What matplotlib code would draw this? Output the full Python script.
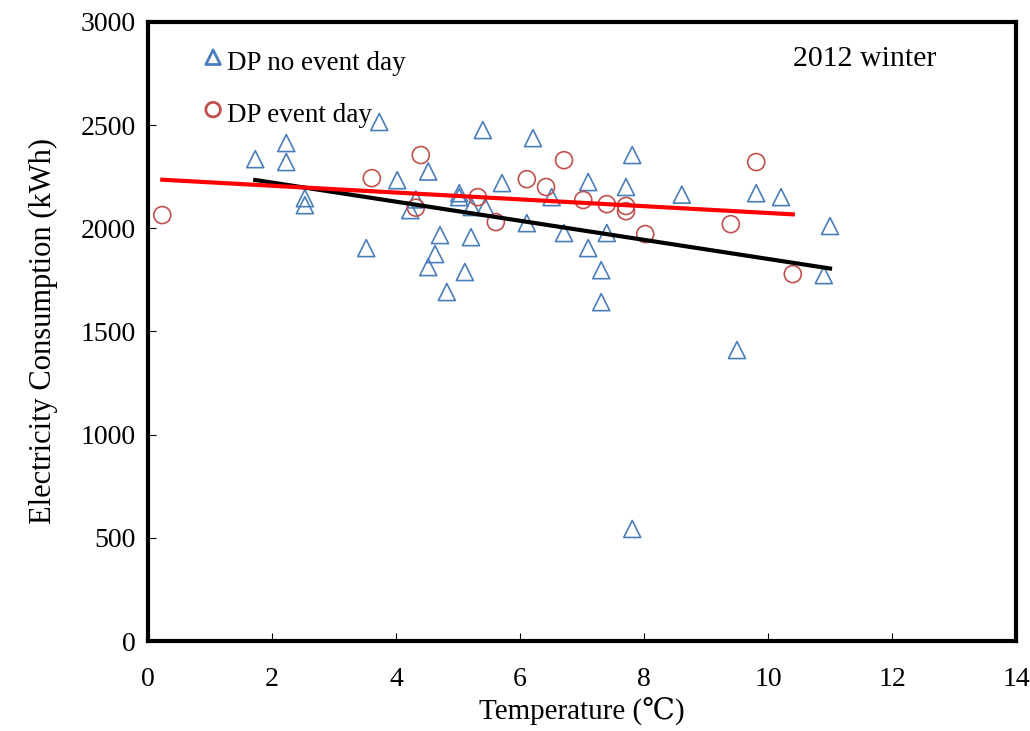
import numpy as np
import matplotlib.pyplot as plt

# DP no event day (triangles)
no_event_temp = [1.73, 2.23, 2.23, 2.53, 2.53, 3.52, 3.73, 4.02, 4.23, 4.32,
                 4.52, 4.52, 4.63, 4.71, 4.82, 5.02, 5.02, 5.11, 5.21, 5.22,
                 5.40, 5.44, 5.71, 6.11, 6.21, 6.51, 6.71, 7.10, 7.10, 7.31,
                 7.31, 7.40, 7.71, 7.81, 7.81, 8.61, 9.50, 9.81, 10.21, 10.90,
                 11.00]
no_event_kwh = [2335, 2413, 2321, 2146, 2112, 1904, 2515, 2233, 2088, 2140,
                2275, 1812, 1875, 1967, 1691, 2170, 2151, 1788, 1957, 2103,
                2476, 2103, 2219, 2025, 2437, 2151, 1977, 2224, 1904, 1797,
                1642, 1977, 2200, 2355, 543, 2163, 1410, 2170, 2151, 1773,
                2011]

# DP event day (circles)
event_temp = [0.23, 3.61, 4.32, 4.40, 5.32, 5.61, 6.11, 6.42, 6.71, 7.02,
              7.40, 7.71, 7.71, 8.02, 9.40, 9.81, 10.40]
event_kwh = [2064, 2243, 2100, 2355, 2151, 2030, 2238, 2200, 2330, 2137,
             2117, 2108, 2083, 1972, 2020, 2321, 1778]

plt.rcParams['font.family'] = ['Liberation Serif', 'DejaVu Serif']

fig = plt.figure(figsize=(10.3, 7.31), dpi=100)
ax = fig.add_axes([0.1437, 0.1231, 0.8427, 0.8469])

blue = '#4A7EBB'
red = '#C0504D'

ax.scatter(no_event_temp, no_event_kwh, marker='^', s=150, facecolors='none',
           edgecolors=blue, linewidths=1.2, zorder=3)
ax.scatter(event_temp, event_kwh, marker='o', s=150, facecolors='none',
           edgecolors=red, linewidths=1.2, zorder=3)

# linear trend lines
p_no = np.polyfit(no_event_temp, no_event_kwh, 1)
xs = np.array([min(no_event_temp), max(no_event_temp)])
ax.plot(xs, np.polyval(p_no, xs), color='black', lw=3, zorder=4)

p_ev = np.polyfit(event_temp, event_kwh, 1)
xs = np.array([min(event_temp), max(event_temp)])
ax.plot(xs, np.polyval(p_ev, xs), color='red', lw=3, zorder=4)

ax.set_xlim(0, 14)
ax.set_ylim(0, 3000)
ax.set_xticks(range(0, 15, 2))
ax.set_yticks(range(0, 3001, 500))
ax.tick_params(labelsize=20, direction='in', length=6, width=0.8,
               top=False, right=False)
ax.tick_params(axis='x', pad=19)
ax.tick_params(axis='y', pad=9)
for sp in ax.spines.values():
    sp.set_linewidth(3)

ax.set_xlabel('Temperature (\u2103)', fontsize=21, labelpad=4)
ax.set_ylabel('Electricity Consumption (kWh)', fontsize=22, labelpad=16)

# legend-like markers and text
ax.scatter([1.05], [2829], marker='^', s=110, facecolors='none',
           edgecolors=blue, linewidths=2, zorder=3)
ax.text(1.27, 2800, 'DP no event day', fontsize=19.5, va='center')
ax.scatter([1.05], [2575], marker='o', s=110, facecolors='none',
           edgecolors=red, linewidths=2, zorder=3)
ax.text(1.27, 2545, 'DP event day', fontsize=19.5, va='center')

ax.text(10.4, 2818, '2012 winter', fontsize=21.5, va='center')

fig.savefig('out.png', dpi=100)
